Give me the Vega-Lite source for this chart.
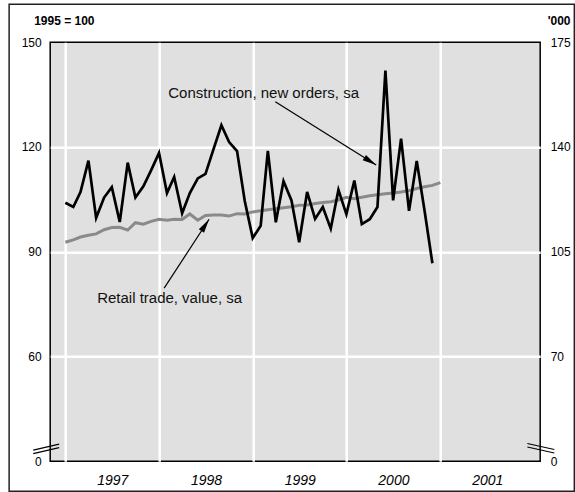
{
  "$schema": "https://vega.github.io/schema/vega-lite/v6.json",
  "autosize": {"type": "pad"},
  "width": 490,
  "height": 419,
  "padding": {"left": 8.2, "top": 3.2, "right": 0, "bottom": 0},
  "background": "white",
  "config": {
    "font": "Liberation Sans",
    "view": {"fill": "#e0e0e0", "stroke": "#000000", "strokeWidth": 1.5},
    "axis": {"labelFont": "Liberation Sans", "titleFont": "Liberation Sans", "labelColor": "#000000", "titleColor": "#000000", "labelFlush": false, "labelBound": false}
  },
  "datasets": {
    "construction": [
      {"date": "1997-01-01", "value": 104.0},
      {"date": "1997-02-01", "value": 102.8},
      {"date": "1997-03-01", "value": 107.1},
      {"date": "1997-04-01", "value": 116.1},
      {"date": "1997-05-01", "value": 99.7},
      {"date": "1997-06-01", "value": 105.5},
      {"date": "1997-07-01", "value": 108.5},
      {"date": "1997-08-01", "value": 98.5},
      {"date": "1997-09-01", "value": 115.5},
      {"date": "1997-10-01", "value": 105.5},
      {"date": "1997-11-01", "value": 108.7},
      {"date": "1997-12-01", "value": 113.3},
      {"date": "1998-01-01", "value": 118.3},
      {"date": "1998-02-01", "value": 106.8},
      {"date": "1998-03-01", "value": 111.4},
      {"date": "1998-04-01", "value": 101.0},
      {"date": "1998-05-01", "value": 106.8},
      {"date": "1998-06-01", "value": 111.0},
      {"date": "1998-07-01", "value": 112.3},
      {"date": "1998-08-01", "value": 119.3},
      {"date": "1998-09-01", "value": 126.2},
      {"date": "1998-10-01", "value": 121.4},
      {"date": "1998-11-01", "value": 118.8},
      {"date": "1998-12-01", "value": 104.5},
      {"date": "1999-01-01", "value": 93.9},
      {"date": "1999-02-01", "value": 97.4},
      {"date": "1999-03-01", "value": 118.9},
      {"date": "1999-04-01", "value": 98.4},
      {"date": "1999-05-01", "value": 110.2},
      {"date": "1999-06-01", "value": 104.7},
      {"date": "1999-07-01", "value": 92.7},
      {"date": "1999-08-01", "value": 107.1},
      {"date": "1999-09-01", "value": 99.4},
      {"date": "1999-10-01", "value": 102.8},
      {"date": "1999-11-01", "value": 96.6},
      {"date": "1999-12-01", "value": 107.7},
      {"date": "2000-01-01", "value": 100.7},
      {"date": "2000-02-01", "value": 110.4},
      {"date": "2000-03-01", "value": 97.9},
      {"date": "2000-04-01", "value": 99.3},
      {"date": "2000-05-01", "value": 102.8},
      {"date": "2000-06-01", "value": 141.9},
      {"date": "2000-07-01", "value": 104.7},
      {"date": "2000-08-01", "value": 122.4},
      {"date": "2000-09-01", "value": 101.7},
      {"date": "2000-10-01", "value": 116.0},
      {"date": "2000-11-01", "value": 101.5},
      {"date": "2000-12-01", "value": 86.7}
    ],
    "retail": [
      {"date": "1997-01-01", "value": 92.7},
      {"date": "1997-02-01", "value": 93.4},
      {"date": "1997-03-01", "value": 94.2},
      {"date": "1997-04-01", "value": 94.7},
      {"date": "1997-05-01", "value": 95.1},
      {"date": "1997-06-01", "value": 96.3},
      {"date": "1997-07-01", "value": 96.9},
      {"date": "1997-08-01", "value": 97.0},
      {"date": "1997-09-01", "value": 96.2},
      {"date": "1997-10-01", "value": 98.3},
      {"date": "1997-11-01", "value": 97.9},
      {"date": "1997-12-01", "value": 98.7},
      {"date": "1998-01-01", "value": 99.3},
      {"date": "1998-02-01", "value": 99.0},
      {"date": "1998-03-01", "value": 99.3},
      {"date": "1998-04-01", "value": 99.2},
      {"date": "1998-05-01", "value": 100.8},
      {"date": "1998-06-01", "value": 99.0},
      {"date": "1998-07-01", "value": 100.4},
      {"date": "1998-08-01", "value": 100.5},
      {"date": "1998-09-01", "value": 100.5},
      {"date": "1998-10-01", "value": 100.2},
      {"date": "1998-11-01", "value": 100.9},
      {"date": "1998-12-01", "value": 100.8},
      {"date": "1999-01-01", "value": 101.4},
      {"date": "1999-02-01", "value": 101.7},
      {"date": "1999-03-01", "value": 102.0},
      {"date": "1999-04-01", "value": 102.3},
      {"date": "1999-05-01", "value": 102.6},
      {"date": "1999-06-01", "value": 102.9},
      {"date": "1999-07-01", "value": 103.3},
      {"date": "1999-08-01", "value": 103.4},
      {"date": "1999-09-01", "value": 103.8},
      {"date": "1999-10-01", "value": 104.1},
      {"date": "1999-11-01", "value": 104.3},
      {"date": "1999-12-01", "value": 104.8},
      {"date": "2000-01-01", "value": 105.6},
      {"date": "2000-02-01", "value": 105.2},
      {"date": "2000-03-01", "value": 105.6},
      {"date": "2000-04-01", "value": 106.0},
      {"date": "2000-05-01", "value": 106.3},
      {"date": "2000-06-01", "value": 106.6},
      {"date": "2000-07-01", "value": 106.8},
      {"date": "2000-08-01", "value": 107.1},
      {"date": "2000-09-01", "value": 107.5},
      {"date": "2000-10-01", "value": 108.1},
      {"date": "2000-11-01", "value": 108.6},
      {"date": "2000-12-01", "value": 109.0},
      {"date": "2001-01-01", "value": 109.8}
    ]
  },
  "layer": [
    {
      "layer": [
        {
          "data": {"values": [{}]},
          "mark": {"type": "rect", "filled": false, "stroke": "#222222", "strokeWidth": 1.5},
          "encoding": {
            "x": {"datum": {"year": 1996, "month": 5, "date": 27, "utc": true}, "type": "temporal"},
            "x2": {"datum": {"year": 2002, "month": 6, "date": 7, "utc": true}},
            "y": {"datum": 160.9, "type": "quantitative"},
            "y2": {"datum": 21.4}
          }
        },
        {
          "data": {"name": "retail"},
          "mark": {"type": "line", "color": "#8a8a8a", "strokeWidth": 3},
          "encoding": {
            "x": {
              "field": "date", "type": "temporal",
              "scale": {"type": "utc", "domain": [{"year": 1996, "month": 11, "date": 3, "utc": true}, {"year": 2002, "month": 1, "date": 25, "utc": true}]},
              "axis": {
                "values": [
                  {"year": 1997, "month": 1, "date": 1, "utc": true},
                  {"year": 1998, "month": 1, "date": 1, "utc": true},
                  {"year": 1999, "month": 1, "date": 1, "utc": true},
                  {"year": 2000, "month": 1, "date": 1, "utc": true},
                  {"year": 2001, "month": 1, "date": 1, "utc": true}
                ],
                "labelExpr": "utcFormat(datum.value, '%Y')",
                "labelOffset": 47,
                "labelFontSize": 14,
                "labelFontStyle": "italic",
                "labelPadding": 12,
                "labelAngle": 0,
                "grid": true,
                "gridColor": "#ffffff",
                "gridWidth": 2.5,
                "gridOpacity": 1,
                "domain": false,
                "ticks": false,
                "tickSize": 0,
                "title": null
              }
            },
            "y": {
              "field": "value", "type": "quantitative",
              "scale": {"domain": [30, 150], "nice": false, "zero": false},
              "axis": {
                "orient": "left",
                "values": [30, 60, 90, 120, 150],
                "labelExpr": "datum.value == 30 ? '0' : datum.label",
                "labelFontSize": 12,
                "labelPadding": 9,
                "grid": true,
                "gridColor": "#ffffff",
                "gridWidth": 2.5,
                "gridOpacity": {"condition": {"test": "datum.value == 30 || datum.value == 150", "value": 0}, "value": 1},
                "domain": false,
                "ticks": false,
                "tickSize": 0,
                "title": "1995 = 100",
                "titleAngle": 0,
                "titleAlign": "left",
                "titleBaseline": "alphabetic",
                "titleX": -16.5,
                "titleY": -18,
                "titleFontSize": 12,
                "titleFontWeight": "bold"
              }
            }
          }
        },
        {
          "data": {"name": "construction"},
          "mark": {"type": "line", "color": "#000000", "strokeWidth": 2.7},
          "encoding": {
            "x": {"field": "date", "type": "temporal"},
            "y": {"field": "value", "type": "quantitative"}
          }
        },
        {
          "data": {"values": [{}]},
          "mark": {"type": "rule", "color": "#000000", "strokeWidth": 1.2},
          "encoding": {
            "x": {"datum": {"year": 1996, "month": 8, "date": 29, "utc": true}, "type": "temporal"},
            "x2": {"datum": {"year": 1996, "month": 12, "date": 8, "utc": true}},
            "y": {"datum": 33.15, "type": "quantitative"},
            "y2": {"datum": 34.87}
          }
        },
        {
          "data": {"values": [{}]},
          "mark": {"type": "rule", "color": "#000000", "strokeWidth": 1.2},
          "encoding": {
            "x": {"datum": {"year": 1996, "month": 8, "date": 29, "utc": true}, "type": "temporal"},
            "x2": {"datum": {"year": 1996, "month": 12, "date": 8, "utc": true}},
            "y": {"datum": 32.15, "type": "quantitative"},
            "y2": {"datum": 33.87}
          }
        },
        {
          "data": {"values": [{}]},
          "mark": {"type": "text", "align": "left", "baseline": "alphabetic", "fontSize": 15, "font": "Liberation Sans", "color": "#111111"},
          "encoding": {
            "x": {"datum": {"year": 1998, "month": 2, "date": 6, "utc": true}, "type": "temporal"},
            "y": {"datum": 133.9, "type": "quantitative"},
            "text": {"value": "Construction, new orders,  sa"}
          }
        },
        {
          "data": {"values": [{}]},
          "mark": {"type": "rule", "color": "#000000", "strokeWidth": 1.2},
          "encoding": {
            "x": {"datum": {"year": 1999, "month": 3, "date": 30, "utc": true}, "type": "temporal"},
            "x2": {"datum": {"year": 2000, "month": 4, "date": 26, "utc": true}},
            "y": {"datum": 132.96, "type": "quantitative"},
            "y2": {"datum": 114.8}
          }
        },
        {
          "data": {"values": [{}]},
          "mark": {"type": "point", "shape": "M0,0L-0.45,2L0.45,2Z", "filled": true, "color": "#000000", "opacity": 1, "size": 196, "angle": 122.2},
          "encoding": {
            "x": {"datum": {"year": 2000, "month": 4, "date": 26, "utc": true}, "type": "temporal"},
            "y": {"datum": 114.8, "type": "quantitative"}
          }
        },
        {
          "data": {"values": [{}]},
          "mark": {"type": "text", "align": "left", "baseline": "alphabetic", "fontSize": 15, "font": "Liberation Sans", "color": "#111111"},
          "encoding": {
            "x": {"datum": {"year": 1997, "month": 5, "date": 5, "utc": true}, "type": "temporal"},
            "y": {"datum": 75.25, "type": "quantitative"},
            "text": {"value": "Retail trade, value, sa"}
          }
        },
        {
          "data": {"values": [{}]},
          "mark": {"type": "rule", "color": "#000000", "strokeWidth": 1.2},
          "encoding": {
            "x": {"datum": {"year": 1998, "month": 1, "date": 21, "utc": true}, "type": "temporal"},
            "x2": {"datum": {"year": 1998, "month": 7, "date": 15, "utc": true}},
            "y": {"datum": 79.55, "type": "quantitative"},
            "y2": {"datum": 99.3}
          }
        },
        {
          "data": {"values": [{}]},
          "mark": {"type": "point", "shape": "M0,0L-0.45,2L0.45,2Z", "filled": true, "color": "#000000", "opacity": 1, "size": 196, "angle": 33.1},
          "encoding": {
            "x": {"datum": {"year": 1998, "month": 7, "date": 15, "utc": true}, "type": "temporal"},
            "y": {"datum": 99.3, "type": "quantitative"}
          }
        }
      ]
    },
    {
      "layer": [
        {
          "data": {"values": [{}]},
          "mark": {"type": "rule", "color": "#000000", "strokeWidth": 1.2},
          "encoding": {
            "x": {"datum": {"year": 2001, "month": 12, "date": 6, "utc": true}, "type": "temporal"},
            "x2": {"datum": {"year": 2002, "month": 3, "date": 21, "utc": true}},
            "y": {
              "datum": 40.9, "type": "quantitative",
              "scale": {"domain": [35, 175], "nice": false, "zero": false},
              "axis": {
                "orient": "right",
                "values": [35, 70, 105, 140, 175],
                "labelExpr": "datum.value == 35 ? '0' : datum.label",
                "labelFontSize": 12,
                "labelPadding": 10,
                "grid": false,
                "domain": false,
                "ticks": false,
                "tickSize": 0,
                "title": "'000",
                "titleAngle": 0,
                "titleAlign": "left",
                "titleBaseline": "alphabetic",
                "titleX": 7,
                "titleY": -18,
                "titleFontSize": 12,
                "titleFontWeight": "bold"
              }
            },
            "y2": {"datum": 38.9}
          }
        },
        {
          "data": {"values": [{}]},
          "mark": {"type": "rule", "color": "#000000", "strokeWidth": 1.2},
          "encoding": {
            "x": {"datum": {"year": 2001, "month": 12, "date": 6, "utc": true}, "type": "temporal"},
            "x2": {"datum": {"year": 2002, "month": 3, "date": 21, "utc": true}},
            "y": {"datum": 39.75, "type": "quantitative"},
            "y2": {"datum": 37.74}
          }
        }
      ]
    }
  ],
  "resolve": {"scale": {"y": "independent"}}
}
